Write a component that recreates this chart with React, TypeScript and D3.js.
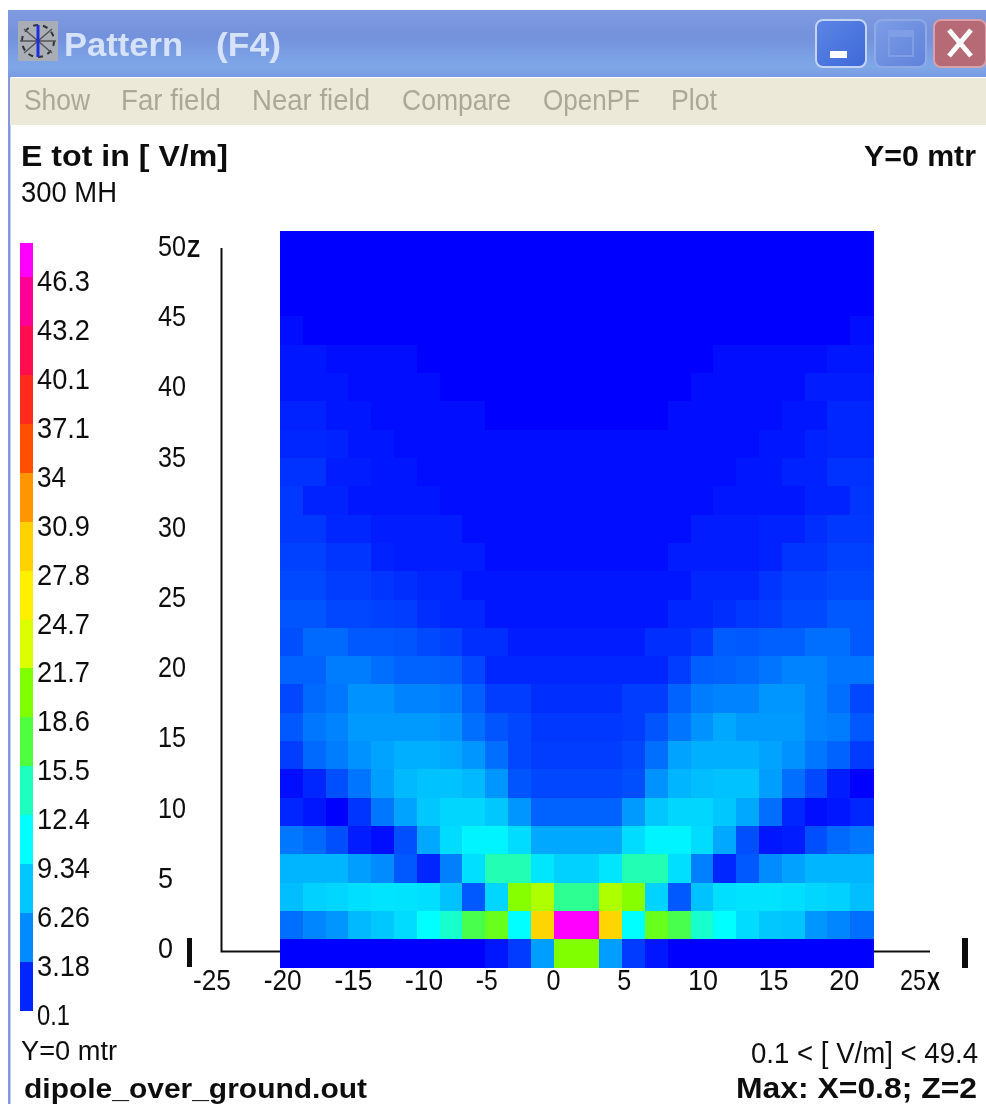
import React from "react";
import * as d3 from "d3";

const W = 986;
const H = 1104;

// Legend levels, bottom to top
const legendLabels = ["0.1","3.18","6.26","9.34","12.4","15.5","18.6","21.7","24.7","27.8","30.9","34","37.1","40.1","43.2","46.3"];
const legendColours = ["#0028ff","#008cff","#00c8ff","#00ffff","#1effbe","#50ff3c","#80ff00","#dcff00","#fff000","#ffd200","#ff9600","#ff5000","#ff2a1e","#ff0a50","#ff0096","#ff00ff"];
const colourStops = [0.1, 4.7, 7.8, 10.9, 14, 17, 20.2, 23.2, 26.2, 29.3, 32.4, 35.5, 38.6, 41.6, 44.7, 47.8];
const colourStopColours = ["#0000ff", ...legendColours.slice(1)];

const xTicks = [-25,-20,-15,-10,-5,0,5,10,15,20,25];
const zTicks = [0,5,10,15,20,25,30,35,40,45,50];

// E total in V/m, one list per height row, from z = 0 upward; 26 columns each
const z00 = [.1,.1,.1,.1,.1,.1,.1,.3,.3,.7,2,5.7,20.2,20.2,5.7,2,.7,.3,.3,.1,.1,.1,.1,.1,.1,.1];
const z02 = [3.7,4.5,5.2,7,7.8,8.9,10.9,13.3,16.6,18.6,10.9,29,49.4,49.4,29,10.9,18.6,16.6,13.3,10.9,8.9,7.8,7.6,5.2,4.5,3.7];
const z04 = [7.3,8.3,8.6,9.1,9.4,9.3,9.1,7.5,3,8.6,20.4,21.7,15,15,21.7,20.4,8.4,3,7.5,9.1,9.3,9.3,9.1,8.6,8.3,7.3];
const z06 = [6.8,6.8,6.8,5.7,4.7,3,1.4,4.3,9.1,14.2,14.2,9.5,8.3,8.3,9.5,14.2,14.2,9.1,4.3,1.4,3,4.7,5.8,6.8,6.8,6.8];
const z08 = [4,3.6,2.7,1.1,.6,2.7,6.2,8.9,10.3,10.3,8.9,6.2,6.2,6.2,6.2,8.9,10.3,10.3,8.9,6.2,2.7,.7,1.1,2.7,3.6,4];
const z10 = [1.4,.8,.3,1.8,4,5.9,7.8,8.6,8.6,7.8,5.2,3.4,3.4,3.4,3.4,5.4,7.8,8.6,8.6,7.8,6.2,3.7,1.4,.4,.9,1.4];
const z12 = [.4,1.4,2.7,3.9,5.7,7,7.5,7.5,7,5.2,2.9,2.4,2.4,2.4,2.4,2.7,5,6.8,7.3,7.5,7.5,5.7,3.7,2.5,1.1,.3];
const z14 = [2.1,3.6,4.2,5,5.9,6.5,6.5,6.2,5.2,3.7,2.4,2.1,2.1,2.1,2.1,2.4,3.7,5.9,6.5,6.5,6.5,5.9,5,4,3.4,2];
const z16 = [3,4,4.4,5.4,5.4,5.4,5.4,5,3.7,2.9,2.4,1.9,1.9,1.9,1.9,2.1,2.9,3.9,5,6.2,5.4,5.4,5.4,4.4,4.2,3];
const z18 = [2.4,3.6,4,5,5,4.4,4.4,4.2,3.2,2.1,2.1,1.6,1.6,1.6,1.6,2.1,2.1,3.4,4.2,4.4,4.4,5.2,5.2,4.4,3.7,2.4];
const z20 = [3.4,3.4,4.2,4.2,3.7,3.4,3.4,3.2,2.4,1.4,1.4,1.4,1.4,1.4,1.4,1.4,1.4,2.1,3.2,3.4,3.6,3.9,4.4,4.4,3.9,3.9];
const z22 = [2.7,3.6,3.6,3,3,2.9,2.5,2.2,1.6,1.6,1,1,1,1,1,1,1.6,1.6,2,3.1,3,3.2,3.2,3.7,3.7,3];
const z24 = [2.9,2.9,2.4,2.4,2.2,2.1,1.6,1.4,1.4,.9,.9,.9,.9,.9,.9,.9,.9,1.4,1.4,1.6,1.9,2.1,2.5,2.5,3,3];
const z26 = [2.5,2.5,2.1,2.1,1.8,1.6,1.4,1.4,.9,.9,.9,.9,.9,.9,.9,.9,.9,.9,1.4,1.4,1.4,1.8,2.2,2.2,2.5,2.5];
const z28 = [2.2,2.2,1.8,1.8,1.2,1.1,1,1,1,.4,.4,.4,.4,.4,.4,.4,.4,1,1,1,1,1.2,1.8,1.8,2.2,2.2];
const z30 = [1.9,1.9,1.4,1.4,1.1,1,1,1,.4,.4,.4,.4,.4,.4,.4,.4,.4,.4,1,1,1,1.2,1.2,1.6,1.9,1.9];
const z32 = [1.9,1.2,1.2,.9,.9,.8,.8,.4,.4,.4,.4,.4,.4,.4,.4,.4,.4,.4,.4,.8,.8,.9,.9,1.2,1.2,1.8];
const z34 = [1.7,1.7,1.1,1.1,.9,.9,.4,.4,.4,.4,.4,.4,.4,.4,.4,.4,.4,.4,.4,.6,.9,.9,1.2,1.2,1.7,1.7];
const z36 = [1.4,1.4,1.2,.8,.8,.5,.4,.4,.4,.4,.4,.4,.4,.4,.4,.4,.4,.4,.4,.4,.5,.9,.9,1.2,1.4,1.4];
const z38 = [1.2,1.2,.8,.8,.5,.5,.4,.4,.4,.1,.1,.1,.3,.3,.1,.1,.1,.4,.4,.4,.4,.5,.9,.9,1.3,1.3];
const z40 = [.9,.9,.9,.5,.5,.5,.5,.1,.1,.1,.1,.1,.1,.1,.1,.1,.1,.1,.5,.5,.5,.5,.5,1,1,1];
const z42 = [.8,.8,.5,.5,.5,.5,.1,.1,.1,.1,.1,.1,.1,.1,.1,.1,.1,.1,.1,.4,.4,.4,.4,.4,.8,.8];
const z44 = [.6,.3,.3,.3,.3,.1,.1,.1,.1,.1,.1,.1,.1,.1,.1,.1,.1,.1,.1,.1,.3,.3,.3,.3,.3,.6];
const z46 = [.3,.3,.3,.3,.1,.1,.1,.1,.1,.1,.1,.1,.1,.1,.1,.1,.1,.1,.1,.1,.1,.1,.3,.3,.3,.3];
const z48 = [.3,.3,.3,.1,.1,.1,.1,.1,.1,.1,.1,.1,.1,.1,.1,.1,.1,.1,.1,.1,.1,.1,.1,.3,.3,.3];
const z50 = [.3,.3,.1,.1,.1,.1,.1,.1,.1,.1,.1,.1,.1,.1,.1,.1,.1,.1,.1,.1,.1,.1,.1,.1,.3,.3];
const rows = [z00,z02,z04,z06,z08,z10,z12,z14,z16,z18,z20,z22,z24,z26,z28,z30,z32,z34,z36,z38,z40,z42,z44,z46,z48,z50];

const menuItems = ["Show","Far field","Near field","Compare","OpenPF","Plot"];
const menuLefts = [24,121,252,402,543,671];
const menuWidths = [66,100,118,109,97,46];

const FONT = "'Liberation Sans', Arial, sans-serif";

function T({x,y,w,size=30,bold=false,fill="#111",anchor="start",children}:any){
  return <text x={x} y={y} fontFamily={FONT} fontSize={size} fontWeight={bold?"bold":"normal"} fill={fill} textAnchor={anchor}
    {...(w?{textLength:w,lengthAdjust:"spacingAndGlyphs"}:{})}>{children}</text>;
}

export default function App(){
  const colour = d3.scaleLinear<string>().domain(colourStops).range(colourStopColours).interpolate(d3.interpolateRgb).clamp(true);
  const nCols = rows[0].length;
  const cx = d3.scaleBand<number>().domain(d3.range(nCols)).range([280,873]);
  const cy = d3.scaleBand<number>().domain(d3.range(rows.length)).range([967,231]);
  const xLab = d3.scaleLinear().domain([-25,25]).range([193,900]);
  const zLab = d3.scaleLinear().domain([0,50]).range([958,256]);
  const legY = d3.scaleLinear().domain([0,16]).range([1011,228]);
  const legTop = 243;
  const xw = (t:number)=> t===25 ? 26 : String(t).length===3?38:String(t).length===2?(t<0?22:30):14;

  return (
    <svg width={W} height={H} viewBox={`0 0 ${W} ${H}`} style={{position:"absolute",left:0,top:0,display:"block"}}>
      <defs>
        <linearGradient id="title" x1="0" y1="0" x2="0" y2="1">
          <stop offset="0" stopColor="#7f9be0"/>
          <stop offset="0.4" stopColor="#7391dc"/>
          <stop offset="0.85" stopColor="#7fa8e8"/>
          <stop offset="1" stopColor="#769ae0"/>
        </linearGradient>
        <linearGradient id="btnB" x1="0" y1="0" x2="1" y2="1">
          <stop offset="0" stopColor="#5c86e4"/><stop offset="1" stopColor="#3e68d8"/>
        </linearGradient>
        <linearGradient id="btnD" x1="0" y1="0" x2="1" y2="1">
          <stop offset="0" stopColor="#7d9de6"/><stop offset="1" stopColor="#5f82da"/>
        </linearGradient>
        <filter id="soft" x="0" y="0" width="100%" height="100%"><feGaussianBlur stdDeviation="0.7"/></filter>
      </defs>
      <rect width={W} height={H} fill="#fff"/>
      <g filter="url(#soft)">
        {/* window chrome */}
        <rect x={8} y={10} width={W-8} height={H-10} fill="#fff"/>
        <rect x={8} y={10} width={2.5} height={H-10} fill="#8298e0"/>
        <rect x={8} y={10} width={W-8} height={67} fill="url(#title)"/>
        <rect x={10} y={78} width={W-10} height={47} fill="#ece9d8"/>
        <rect x={18} y={21} width={40} height={40} fill="#a9adb5"/>
        <circle cx={38} cy={41} r={16} fill="none" stroke="#333" strokeWidth={2} strokeDasharray="5 5"/>
        <path d="M20 41H56M24 29L52 53M24 53L52 29" stroke="#555" strokeWidth={1.5}/>
        <path d="M38 25V57" stroke="#1a2ee0" strokeWidth={3}/>
        <T x={64} y={56} w={119} size={33} bold fill="#d6e2fa">Pattern</T>
        <T x={216} y={56} w={65} size={33} bold fill="#d6e2fa">(F4)</T>
        <rect x={816} y={20} width={50} height={47} rx={7} fill="url(#btnB)" stroke="#c6d4f4" strokeWidth={2}/>
        <rect x={830} y={51} width={17} height={7} fill="#fff"/>
        <rect x={875} y={20} width={51} height={47} rx={7} fill="url(#btnD)" stroke="#8fa8e6" strokeWidth={2}/>
        <rect x={889} y={31} width={24} height={25} fill="none" stroke="#7f9ee6" strokeWidth={2}/>
        <rect x={889} y={31} width={24} height={6} fill="#7f9ee6"/>
        <rect x={934} y={20} width={52} height={47} rx={7} fill="#b56a76" stroke="#d8a0a8" strokeWidth={2}/>
        <path d="M949 30L971 56M971 30L949 56" stroke="#fff" strokeWidth={5}/>
        {menuItems.map((m,i)=>(
          <T key={m} x={menuLefts[i]} y={110} w={menuWidths[i]} size={29} fill="#aca899">{m}</T>
        ))}

        {/* header text */}
        <T x={21} y={166} w={207} size={29} bold>E  tot in [ V/m]</T>
        <T x={21} y={202} w={96} size={29}>300 MH</T>
        <T x={864} y={166} w={112} size={29} bold>Y=0 mtr</T>

        {/* legend */}
        {legendColours.map((c,i)=>{
          const top = Math.max(legY(i+1), legTop);
          return <rect key={c} x={20} width={13} y={top} height={legY(i)-top} fill={c} shapeRendering="crispEdges"/>;
        })}
        {legendLabels.map((l,i)=>(
          <T key={l} x={37} y={legY(i)+14} w={l.length===2?29:l.length===3?33:53} size={29}>{l}</T>
        ))}

        {/* axes */}
        <path d={`M221.5 248V951.5H930`} fill="none" stroke="#111" strokeWidth={2}/>
        <rect x={187} y={938} width={5} height={29} fill="#111"/>
        <rect x={962} y={938} width={6} height={30} fill="#111"/>

        {/* heat cells */}
        {rows.map((row,r)=>row.map((v,c)=>(
          <rect key={`${r}-${c}`} x={cx(c)} y={cy(r)} width={cx.bandwidth()+0.5} height={cy.bandwidth()+0.5} fill={colour(v)} shapeRendering="crispEdges"/>
        )))}

        {/* tick labels */}
        {zTicks.map(t=>(
          <T key={t} x={158} y={zLab(t)} w={t<10?15:28} size={29}>{t}</T>
        ))}
        {xTicks.map(t=>(
          <T key={t} x={xLab(t)} y={990} size={29} w={xw(t)}>{t}</T>
        ))}
        <T x={187} y={257} size={24} w={13} bold>Z</T>
        <T x={927} y={990} size={25} w={13} bold>X</T>

        {/* footer */}
        <T x={21} y={1060} w={96} size={27}>Y=0 mtr</T>
        <T x={24} y={1098} w={343} size={28} bold>dipole_over_ground.out</T>
        <T x={751} y={1063} w={227} size={29}>0.1 &lt; [ V/m] &lt; 49.4</T>
        <T x={736} y={1098} w={241} size={29} bold>Max: X=0.8; Z=2</T>
      </g>
    </svg>
  );
}
